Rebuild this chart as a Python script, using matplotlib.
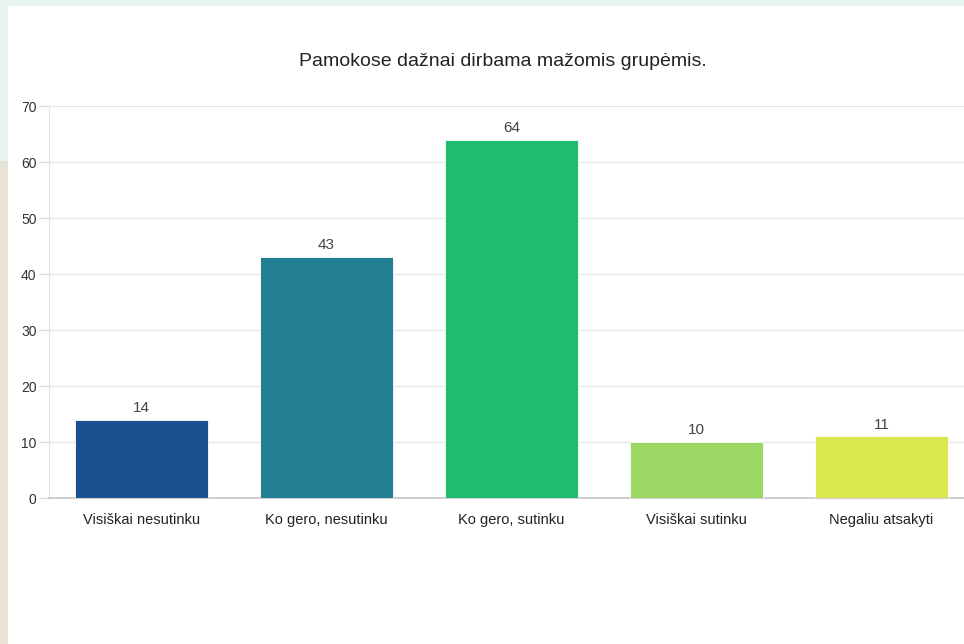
import matplotlib.pyplot as plt
from matplotlib.patches import Rectangle

plt.rcParams['font.family'] = ['Liberation Sans', 'DejaVu Sans']

# --- duomenys ---
kategorijos = ['Visiškai nesutinku', 'Ko gero, nesutinku', 'Ko gero, sutinku',
               'Visiškai sutinku', 'Negaliu atsakyti']
reiksmes = [14, 43, 64, 10, 11]
spalvos = ['#1a5190', '#227f91', '#1fbb6e', '#9dd865', '#d9e84f']
y_ticks = [0, 10, 20, 30, 40, 50, 60, 70]

W, H = 964, 644
fig = plt.figure(figsize=(W / 100, H / 100), dpi=100, facecolor='#e9f3ef')

# balta kortelė (ekrano nuotraukos fonas)
fig.patches.append(Rectangle((0, 0), 8 / W, 0.75, transform=fig.transFigure,
                             facecolor='#e7e4d6', edgecolor='none', zorder=-2))
fig.patches.append(Rectangle((8 / W, 0), 1 - 8 / W, 1 - 6 / H, transform=fig.transFigure,
                             facecolor='white', edgecolor='none', zorder=-1))

ax = fig.add_axes([49 / W, 1 - 498 / H, 1 - 49 / W, (498 - 106) / H])
ax.set_facecolor('none')
ax.set_zorder(1)

x = range(len(kategorijos))
bars = ax.bar(x, reiksmes, width=0.72, color=spalvos, edgecolor='#ffffff',
              linewidth=0.6, zorder=3)

for xi, v in zip(x, reiksmes):
    ax.annotate(str(v), (xi, v), xytext=(0, 3.5), textcoords='offset points',
                ha='center', va='bottom', fontsize=11, color='#444444')

ax.set_xlim(-0.5, 4.5 - 10 / 185)
ax.set_ylim(0, 70)
ax.set_yticks(y_ticks)
ax.set_xticks(list(x))
ax.set_xticklabels(kategorijos)

ax.grid(axis='y', color='#e6e6e6', linewidth=1, zorder=0)
ax.grid(axis='x', visible=False)

for s in ['top', 'right']:
    ax.spines[s].set_visible(False)
ax.spines['left'].set_color('#e3e3e3')
ax.spines['bottom'].set_color('#c6c6c6')
ax.spines['bottom'].set_linewidth(1.2)

ax.tick_params(axis='y', length=7, width=1, color='#dcdcdc', pad=2,
               labelsize=10, labelcolor='#333333')
ax.tick_params(axis='x', length=0, pad=11, labelsize=10.5, labelcolor='#222222')

fig.text(503 / W, 1 - 62 / H, 'Pamokose dažnai dirbama mažomis grupėmis.',
         ha='center', va='center', fontsize=14, color='#222222')

fig.savefig('out.png', dpi=100, facecolor=fig.get_facecolor())
